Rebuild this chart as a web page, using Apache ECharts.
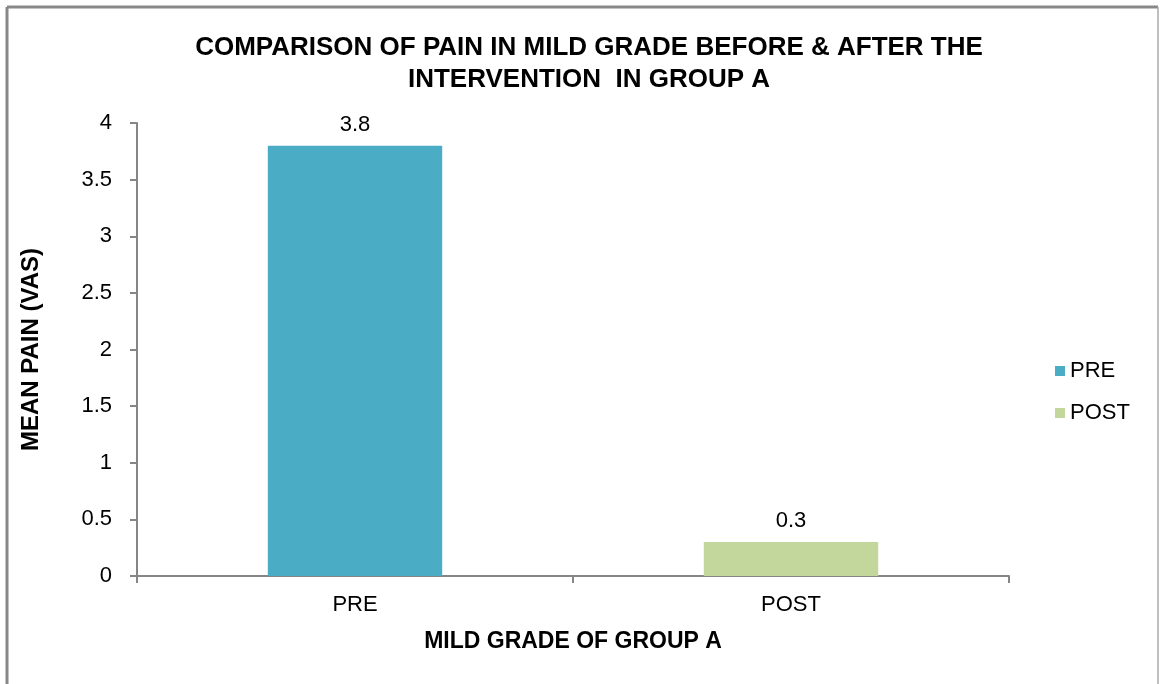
<!DOCTYPE html>
<html>
<head>
<meta charset="utf-8">
<script src="https://cdn.jsdelivr.net/npm/echarts@6/dist/echarts.min.js"></script>
<style>
  html, body { margin: 0; padding: 0; background: #fff; }
  #chart { width: 1160px; height: 684px; }
</style>
</head>
<body>
<div id="chart"></div>
<script>
  // data
  var categories = ['PRE', 'POST']
  var preValues = [3.8, '-']
  var postValues = ['-', 0.3]
  var yTicks = { min: 0, max: 4, interval: 0.5 }

  var axisColor = '#868686'
  var font = 'Liberation Sans, Arial, sans-serif'

  var chart = echarts.init(document.getElementById('chart'))
  chart.setOption({
    backgroundColor: '#fff',
    animation: false,
    textStyle: { fontFamily: font },
    title: {
      text: 'COMPARISON OF PAIN IN MILD GRADE BEFORE & AFTER THE\nINTERVENTION  IN GROUP A',
      left: 584,
      textAlign: 'center',
      top: 27,
      textStyle: {
        fontFamily: font,
        fontSize: 26,
        fontWeight: 'bold',
        color: '#000',
        lineHeight: 32
      }
    },
    legend: {
      orient: 'vertical',
      left: 1050,
      top: 355,
      itemWidth: 10,
      itemHeight: 10,
      itemGap: 20,
      icon: 'rect',
      textStyle: { fontFamily: font, fontSize: 22, color: '#000' },
      data: ['PRE', 'POST']
    },
    grid: {
      left: 137,
      right: 151,
      top: 123,
      bottom: 108
    },
    xAxis: {
      type: 'category',
      data: categories,
      name: 'MILD GRADE OF GROUP A',
      nameLocation: 'middle',
      nameGap: 54,
      nameTextStyle: { fontFamily: font, fontSize: 23, fontWeight: 'bold', color: '#000' },
      axisLine: { lineStyle: { color: axisColor, width: 2 } },
      axisTick: { show: true, length: 7, lineStyle: { color: axisColor, width: 2 } },
      axisLabel: { fontFamily: font, fontSize: 22, color: '#000', margin: 18 }
    },
    yAxis: {
      type: 'value',
      min: yTicks.min,
      max: yTicks.max,
      interval: yTicks.interval,
      name: 'MEAN PAIN (VAS)',
      nameLocation: 'middle',
      nameGap: 94,
      nameRotate: 90,
      nameTextStyle: { fontFamily: font, fontSize: 24, fontWeight: 'bold', color: '#000' },
      splitLine: { show: false },
      axisLine: { show: true, lineStyle: { color: axisColor, width: 2 } },
      axisTick: { show: true, length: 7, lineStyle: { color: axisColor, width: 2 } },
      axisLabel: { fontFamily: font, fontSize: 22, color: '#000', margin: 25 }
    },
    series: [
      {
        name: 'PRE',
        type: 'bar',
        stack: 'grade',
        barWidth: '40%',
        data: preValues,
        itemStyle: { color: '#4BACC6' },
        label: { show: true, position: 'top', distance: 10, fontSize: 22, color: '#000', fontFamily: font }
      },
      {
        name: 'POST',
        type: 'bar',
        stack: 'grade',
        barWidth: '40%',
        data: postValues,
        itemStyle: { color: '#C3D69B' },
        label: { show: true, position: 'top', distance: 10, fontSize: 22, color: '#000', fontFamily: font }
      }
    ],
    graphic: [
      { type: 'line', shape: { x1: 7, y1: 7, x2: 1158, y2: 7 }, style: { stroke: '#888', lineWidth: 3 } },
      { type: 'line', shape: { x1: 7, y1: 7, x2: 7, y2: 684 }, style: { stroke: '#888', lineWidth: 3 } },
      { type: 'line', shape: { x1: 1158, y1: 7, x2: 1158, y2: 684 }, style: { stroke: '#aaa', lineWidth: 1.5 } }
    ]
  })
</script>
</body>
</html>
